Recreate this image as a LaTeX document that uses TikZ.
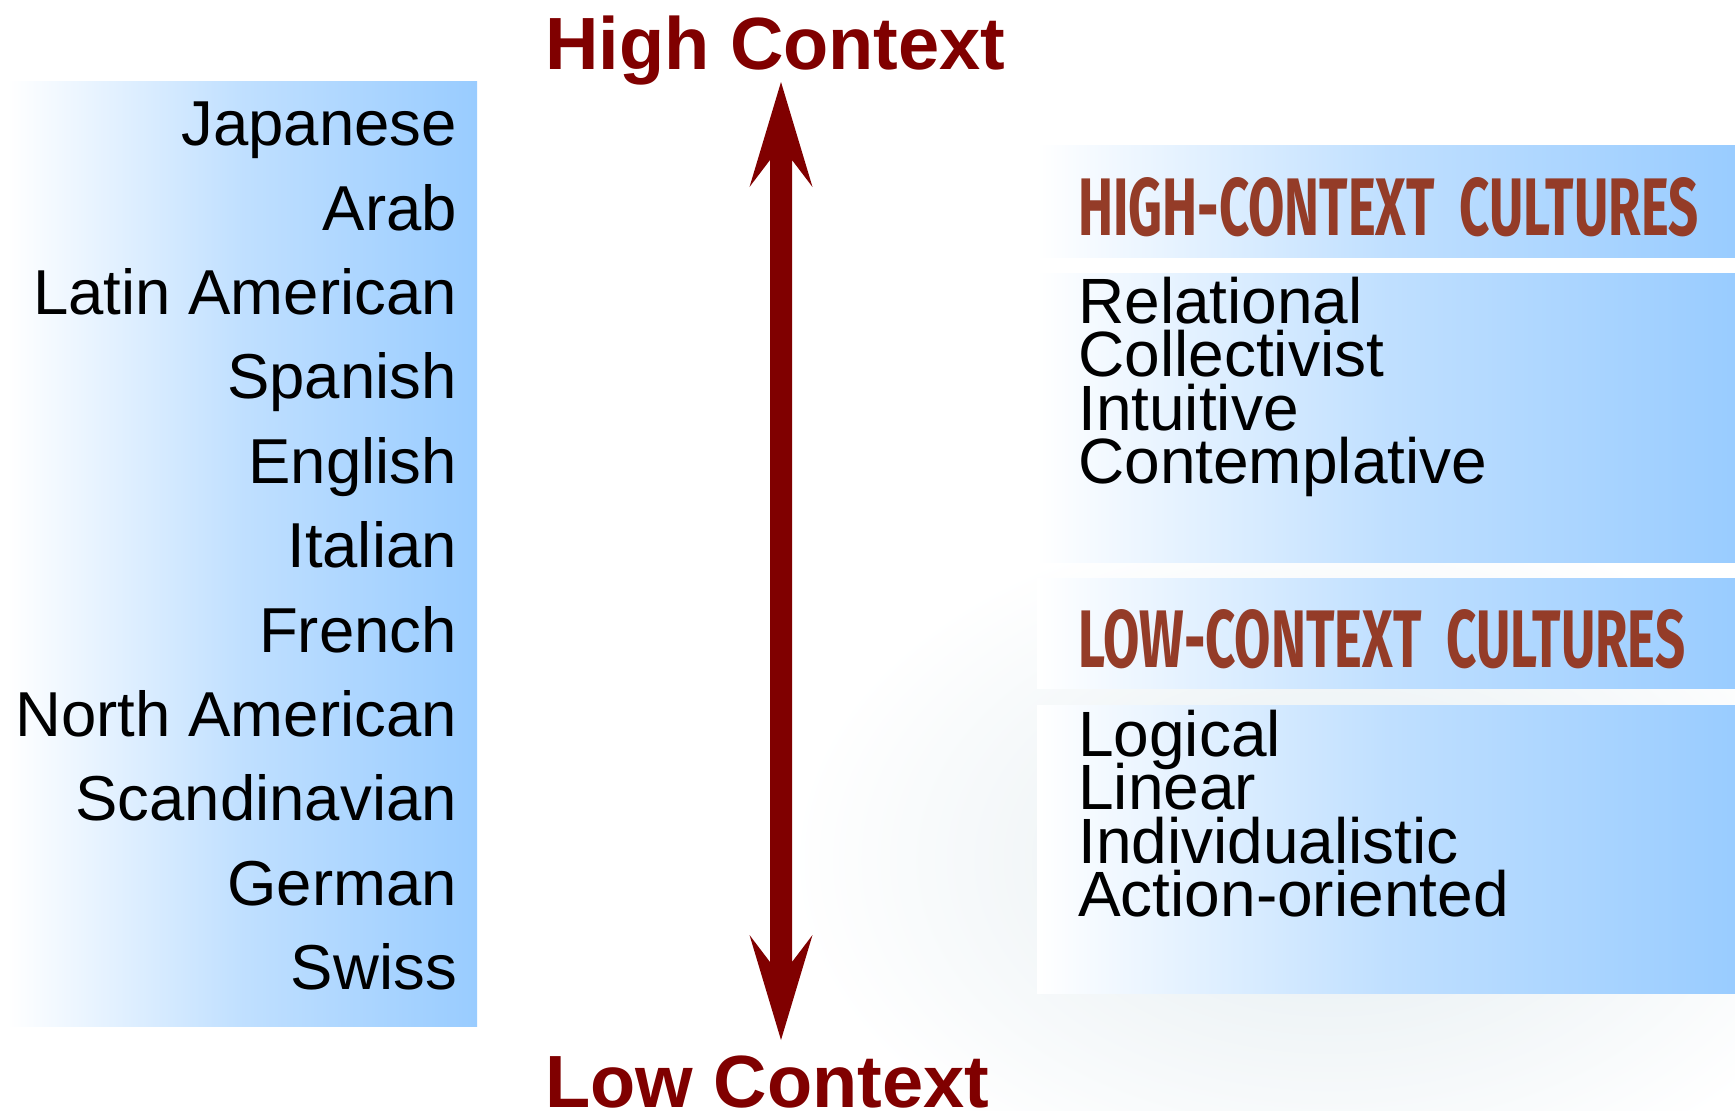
\documentclass[tikz,border=0pt]{standalone}
\usepackage{fontspec}
\usepackage{graphicx}
\setmainfont{Liberation Sans}
\newfontfamily\headfont{Fira Sans}
\usetikzlibrary{calc}

\definecolor{panelblue}{HTML}{99CCFF}
\definecolor{titlered}{HTML}{800000}
\definecolor{headbrown}{HTML}{943C28}
\definecolor{haze}{HTML}{E3ECF0}

\begin{document}
\begin{tikzpicture}[x=1pt,y=-1pt,
  panel/.style={draw=none,left color=white,right color=panelblue,middle color=panelblue!62},
  country/.style={anchor=base east,inner sep=0pt,font=\fontsize{63.5}{70}\selectfont},
  trait/.style={anchor=base west,inner sep=0pt,font=\fontsize{64}{70}\selectfont},
  axistitle/.style={anchor=base west,inner sep=0pt,text=titlered,font=\bfseries\fontsize{74}{80}\selectfont},
  headline/.style={anchor=base west,inner sep=0pt,text=headbrown,font=\headfont\bfseries\fontsize{60}{60}\selectfont}]

\useasboundingbox[fill=white] (0,0) rectangle (1735,1111);

% faint backdrop behind the right-hand boxes
\shade[inner color=haze,outer color=white] (1330,860) ellipse [x radius=540, y radius=350];

% left column of cultures
\path[panel] (8,81) rectangle (477,1026);
\foreach \name [count=\i from 0] in {Japanese,Arab,Latin American,Spanish,English,Italian,French,North American,Scandinavian,German,Swiss}
  \node[country] (c\i) at (457,{145.6+84.4*\i}) {\name};

% axis titles
\node[axistitle] (hi) at (545,69) {High Context};
\node[axistitle] (lo) at (545,1107) {Low Context};

% double-headed axis arrow
\coordinate (up) at (781,82);
\coordinate (dn) at (781,1040);
\fill[titlered] (up) -- ++(31.5,105) -- ++(-20.5,-27) -- ++(0,802) -- ++(20.5,-27)
  -- (dn) -- ++(-31.5,-105) -- ++(20.5,27) -- ++(0,-802) -- ++(-20.5,27) -- cycle;

% high-context block
\path[panel] (1037,145) rectangle (1735,257);
\path[panel] (1037,273) rectangle (1735,562);
\node[headline] (hh) at (1078,235) {\resizebox{620pt}{58pt}{HIGH-CONTEXT\ \ CULTURES}};
\foreach \name [count=\i from 0] in {Relational,Collectivist,Intuitive,Contemplative}
  \node[trait] (h\i) at (1078,{323+53.5*\i}) {\name};

% low-context block
\path[panel] (1037,578) rectangle (1735,688);
\path[panel] (1037,705) rectangle (1735,993);
\node[headline] (lh) at (1078,667) {\resizebox{607pt}{58pt}{LOW-CONTEXT\ \ CULTURES}};
\foreach \name [count=\i from 0] in {Logical,Linear,Individualistic,Action-oriented}
  \node[trait] (l\i) at (1078,{756+53.5*\i}) {\name};

\end{tikzpicture}
\end{document}
